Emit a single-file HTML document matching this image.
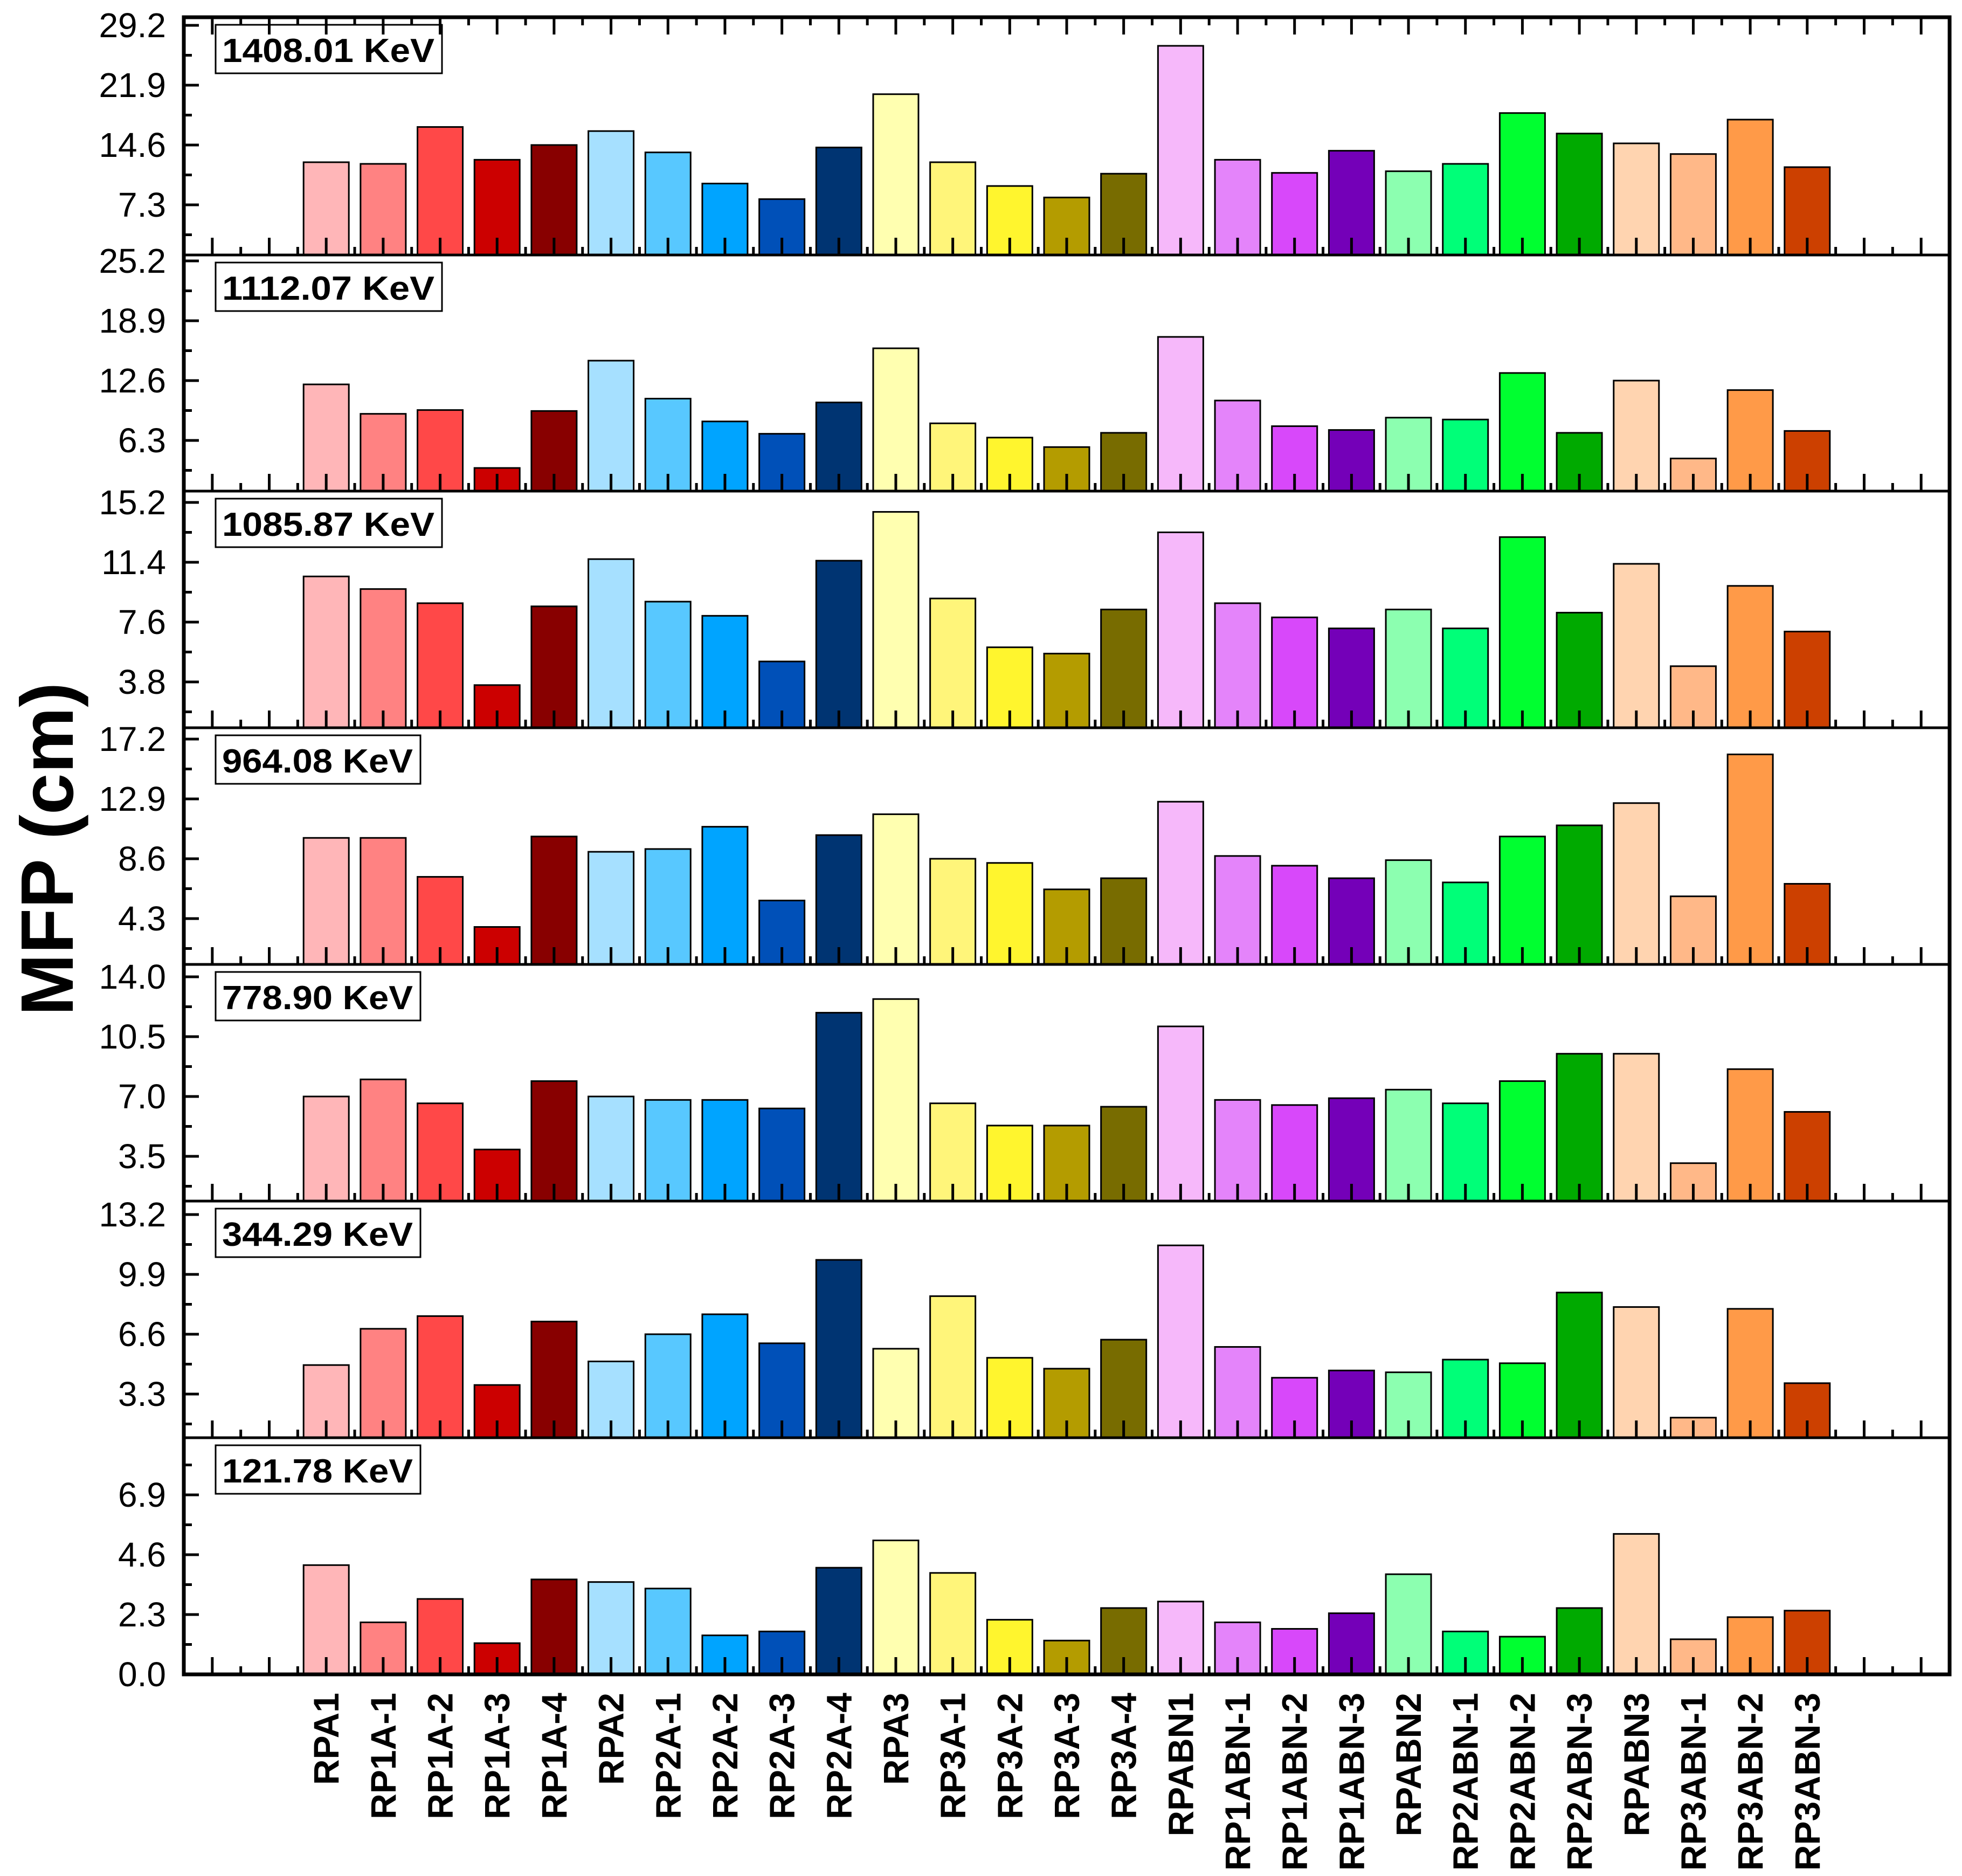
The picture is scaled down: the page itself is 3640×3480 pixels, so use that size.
<!DOCTYPE html>
<html><head><meta charset="utf-8">
<style>
html,body{margin:0;padding:0;background:#fff;}
svg{display:block;}
</style></head>
<body>
<svg id="chart" width="3640" height="3480" viewBox="0 0 3640 3480" xmlns="http://www.w3.org/2000/svg" font-family="Liberation Sans, Arial, sans-serif">
<rect x="0" y="0" width="3640" height="3480" fill="#fff"/>
<text x="0" y="0" transform="translate(135,1575) rotate(-90)" text-anchor="middle" font-size="138" font-weight="bold">MFP (cm)</text>
</svg>
<script>
const categories = ["RPA1","RP1A-1","RP1A-2","RP1A-3","RP1A-4","RPA2","RP2A-1","RP2A-2","RP2A-3","RP2A-4","RPA3","RP3A-1","RP3A-2","RP3A-3","RP3A-4","RPABN1","RP1ABN-1","RP1ABN-2","RP1ABN-3","RPABN2","RP2ABN-1","RP2ABN-2","RP2ABN-3","RPABN3","RP3ABN-1","RP3ABN-2","RP3ABN-3"];
const colors = ["#ffb6b8","#ff8282","#ff4848","#cc0000","#880000","#a6e0ff","#58c8ff","#00a4ff","#0050b8","#003472","#ffffb0","#fff57a","#fff52e","#b49c00","#786c00","#f6b8fa","#e484fa","#d848fa","#7400b8","#8cffb0","#00ff78","#00ff30","#00aa00","#ffd4b0","#ffb888","#ff9a48","#cc4000"];
const energies = ["1408.01 KeV","1112.07 KeV","1085.87 KeV","964.08 KeV","778.90 KeV","344.29 KeV","121.78 KeV"];
const tickSteps = [7.3, 6.3, 3.8, 4.3, 3.5, 3.3, 2.3];
const tickLabels = [["7.3","14.6","21.9","29.2"],["6.3","12.6","18.9","25.2"],["3.8","7.6","11.4","15.2"],["4.3","8.6","12.9","17.2"],["3.5","7.0","10.5","14.0"],["3.3","6.6","9.9","13.2"],["0.0","2.3","4.6","6.9"]];
const mfp1408 = [12.5,12.3,16.8,12.8,14.6,16.3,13.7,9.9,8.0,14.3,20.8,12.5,9.6,8.2,11.1,26.7,12.8,11.2,13.9,11.4,12.3,18.5,16.0,14.8,13.5,17.7,11.9];
const mfp1112 = [12.2,9.1,9.5,3.4,9.4,14.7,10.7,8.3,7.0,10.3,16.0,8.1,6.6,5.6,7.1,17.2,10.5,7.8,7.4,8.7,8.5,13.4,7.1,12.6,4.4,11.6,7.3];
const mfp1085 = [10.5,9.7,8.8,3.6,8.6,11.6,8.9,8.0,5.1,11.5,14.6,9.1,6.0,5.6,8.4,13.3,8.8,7.9,7.2,8.4,7.2,13.0,8.2,11.3,4.8,9.9,7.0];
const mfp964 = [10.1,10.1,7.3,3.7,10.2,9.1,9.3,10.9,5.6,10.3,11.8,8.6,8.3,6.4,7.2,12.7,8.8,8.1,7.2,8.5,6.9,10.2,11.0,12.6,5.9,16.1,6.8];
const mfp778 = [7.0,8.0,6.6,3.9,7.9,7.0,6.8,6.8,6.3,11.9,12.7,6.6,5.3,5.3,6.4,11.1,6.8,6.5,6.9,7.4,6.6,7.9,9.5,9.5,3.1,8.6,6.1];
const mfp344 = [4.9,6.9,7.6,3.8,7.3,5.1,6.6,7.7,6.1,10.7,5.8,8.7,5.3,4.7,6.3,11.5,5.9,4.2,4.6,4.5,5.2,5.0,8.9,8.1,2.0,8.0,3.9];
const mfp121 = [4.2,2.0,2.9,1.2,3.65,3.55,3.3,1.5,1.65,4.1,5.15,3.9,2.1,1.3,2.55,2.8,2.0,1.75,2.35,3.85,1.65,1.45,2.55,5.4,1.35,2.2,2.45];
const series = [mfp1408, mfp1112, mfp1085, mfp964, mfp778, mfp344, mfp121];

const NS = "http://www.w3.org/2000/svg";
const svg = document.getElementById("chart");
const X0 = 341, X1 = 3617, IDX0 = -2.5, IDX1 = 28.5;
const panelTops = [32, 473, 911, 1350, 1789, 2228, 2667, 3106];
const PX_PER_STEP = 111;
const zeroOffsets = [459, 455, 465, 465, 467, 469, 439]; // zero line below panel top
function xScale(i){ return X0 + (i - IDX0) * (X1 - X0) / (IDX1 - IDX0); }
function yScale(p, v){ return panelTops[p] + zeroOffsets[p] - v / tickSteps[p] * PX_PER_STEP; }
function mk(tag, attrs){ const e = document.createElementNS(NS, tag); for (const k in attrs) e.setAttribute(k, attrs[k]); svg.appendChild(e); return e; }
const BW = 84;

for (let p = 0; p < 7; p++) {
  const top = panelTops[p], bot = panelTops[p+1];
  const g = document.createElementNS(NS, "g");
  
  
  svg.appendChild(g);
  const cp = document.createElementNS(NS, "clipPath");
  cp.setAttribute("id", "clip" + p);
  const cr = document.createElementNS(NS, "rect");
  cr.setAttribute("x", X0); cr.setAttribute("y", top); cr.setAttribute("width", X1 - X0); cr.setAttribute("height", bot - top);
  cp.appendChild(cr); svg.appendChild(cp);
  for (let i = 0; i < categories.length; i++) {
    const v = series[p][i];
    const yt = Math.max(yScale(p, v), top);
    const r = document.createElementNS(NS, "rect");
    r.setAttribute("x", xScale(i) - BW/2); r.setAttribute("y", yt);
    r.setAttribute("width", BW); r.setAttribute("height", bot - yt);
    r.setAttribute("fill", colors[i]); r.setAttribute("stroke", "#000"); r.setAttribute("stroke-width", "3");
    r.setAttribute("clip-path", "url(#clip" + p + ")");
    
    
    g.appendChild(r);
  }
  for (let k = 0; k < tickLabels[p].length; k++) {
    const val = parseFloat(tickLabels[p][k]);
    const y = yScale(p, val);
    const t = document.createElementNS(NS, "line");
    t.setAttribute("x1", X0); t.setAttribute("x2", X0 + 28); t.setAttribute("y1", y); t.setAttribute("y2", y);
    t.setAttribute("stroke", "#000"); t.setAttribute("stroke-width", "5");
    
    
    g.appendChild(t);
    const lab = document.createElementNS(NS, "text");
    lab.setAttribute("x", 308); lab.setAttribute("y", y + 22); lab.setAttribute("text-anchor", "end");
    lab.setAttribute("font-size", "64");
    lab.textContent = tickLabels[p][k];
    
    
    g.appendChild(lab);
  }
  for (let k = -1; k < 5; k++) {
    const y = yScale(p, (k + 0.5) * tickSteps[p]);
    if (y < top + 5 || y > bot - 5) continue;
    const t = document.createElementNS(NS, "line");
    t.setAttribute("x1", X0); t.setAttribute("x2", X0 + 15); t.setAttribute("y1", y); t.setAttribute("y2", y);
    t.setAttribute("stroke", "#000"); t.setAttribute("stroke-width", "5");
    
    
    g.appendChild(t);
  }
  for (let h = -4; h <= 56; h++) {
    const idx = h / 2;
    const x = xScale(idx);
    if (x <= X0 + 3 || x >= X1 - 3) continue;
    const major = (h % 2 === 0);
    const t = document.createElementNS(NS, "line");
    t.setAttribute("x1", x); t.setAttribute("x2", x); t.setAttribute("y1", bot); t.setAttribute("y2", bot - (major ? 32 : 15));
    t.setAttribute("stroke", "#000"); t.setAttribute("stroke-width", "5");
    
    
    g.appendChild(t);
  }
  const bx = document.createElementNS(NS, "rect");
  bx.setAttribute("x", 400); bx.setAttribute("y", top + 14);
  bx.setAttribute("width", energies[p].length > 10 ? 420 : 380); bx.setAttribute("height", 90);
  bx.setAttribute("fill", "#fff"); bx.setAttribute("stroke", "#000"); bx.setAttribute("stroke-width", "3");
  
  
  g.appendChild(bx);
  const et = document.createElementNS(NS, "text");
  et.setAttribute("x", 412); et.setAttribute("y", top + 83);
  et.setAttribute("font-size", "62"); et.setAttribute("font-weight", "bold");
  et.setAttribute("textLength", energies[p].length > 10 ? 394 : 354);
  et.setAttribute("lengthAdjust", "spacingAndGlyphs");
  et.textContent = energies[p];
  
  
  g.appendChild(et);
  const sep = document.createElementNS(NS, "line");
  sep.setAttribute("x1", X0); sep.setAttribute("x2", X1); sep.setAttribute("y1", bot); sep.setAttribute("y2", bot);
  sep.setAttribute("stroke", "#000"); sep.setAttribute("stroke-width", p === 6 ? "7" : "5");
  
  
  g.appendChild(sep);
}
for (let h = -4; h <= 56; h++) {
  const x = xScale(h / 2);
  if (x <= X0 + 3 || x >= X1 - 3) continue;
  const major = (h % 2 === 0);
  const t = mk("line", {x1: x, x2: x, y1: panelTops[0], y2: panelTops[0] + (major ? 32 : 15), stroke: "#000", "stroke-width": 5});
  
  
}
const frame = mk("rect", {x: X0, y: panelTops[0], width: X1 - X0, height: panelTops[7] - panelTops[0], fill: "none", stroke: "#000", "stroke-width": 7});


for (let i = 0; i < categories.length; i++) {
  const x = xScale(i) + 23;
  const t = mk("text", {x: 0, y: 0, transform: "translate(" + x + ",3140) rotate(-90)", "text-anchor": "end", "font-size": "66", "font-weight": "bold"});
  t.textContent = categories[i];
  
  
}
</script>
</body></html>
